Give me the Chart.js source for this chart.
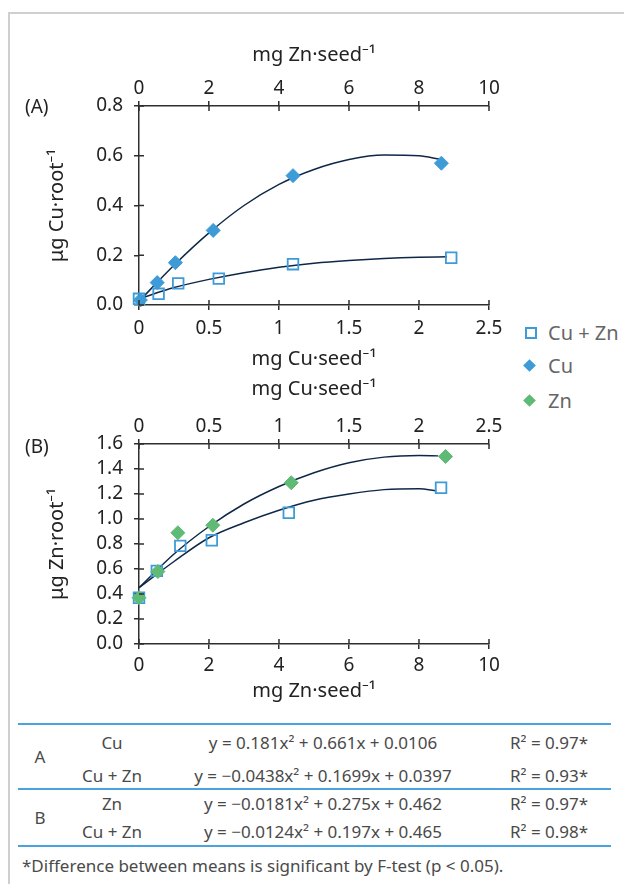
<!DOCTYPE html>
<html><head><meta charset="utf-8">
<script src="https://cdn.jsdelivr.net/npm/chart.js@4.4.1/dist/chart.umd.min.js"></script>
<style>
html,body{margin:0;padding:0;background:#fff;}
body{width:624px;height:884px;position:relative;overflow:hidden;font-family:"Noto Sans",sans-serif;}
.frame{position:absolute;left:8px;top:12px;width:700px;height:900px;border-left:2px solid #cfcfcf;border-top:2px solid #cfcfcf;}
canvas{position:absolute;left:0;}
.lbl{position:absolute;font-size:19px;line-height:20px;color:#222;}
.leg{position:absolute;left:522px;font-size:20px;line-height:22px;color:#666;}
.leg span.m{position:absolute;left:0;top:0;}
.leg span.t{position:absolute;left:26px;top:0;white-space:nowrap;}
.sq{width:8px;height:8px;border:2px solid #3d9bd8;}
.dm{width:9px;height:9px;transform:rotate(45deg);}
.hl{position:absolute;left:18px;width:593px;height:2px;background:#4aa3df;}
.tc{position:absolute;font-size:17px;line-height:20px;color:#4a4a4a;white-space:nowrap;}
</style>
</head><body>
<div class="frame"></div>
<canvas id="cA" width="520" height="380" style="top:0px"></canvas>
<canvas id="cB" width="520" height="340" style="top:370px"></canvas>
<div class="lbl" style="left:25px;top:96px">(A)</div>
<div class="lbl" style="left:25px;top:436px">(B)</div>
<div id="legend"></div>
<div id="table"></div>
<script>
// Panel A (x = mg Cu·seed⁻¹, y = µg Cu·root⁻¹)
const aCuX   = [0.01, 0.13, 0.26, 0.53, 1.10, 2.16];
const aCuY   = [0.02, 0.09, 0.17, 0.30, 0.52, 0.57];
const aCuZnX = [0.00, 0.14, 0.28, 0.57, 1.10, 2.23];
const aCuZnY = [0.025, 0.045, 0.087, 0.106, 0.164, 0.19];
const aCuFitX   = [0, 0.25, 0.5, 0.75, 1.0, 1.25, 1.5, 1.75, 2.0, 2.15];
const aCuFitY   = [0.015, 0.16, 0.29, 0.40, 0.485, 0.545, 0.585, 0.603, 0.60, 0.586];
const aCuZnFitX = [0, 0.25, 0.5, 0.75, 1.0, 1.25, 1.5, 1.75, 2.0, 2.2];
const aCuZnFitY = [0.025, 0.07, 0.103, 0.13, 0.152, 0.168, 0.179, 0.187, 0.192, 0.194];

// Panel B (x = mg Zn·seed⁻¹, y = µg Zn·root⁻¹)
const bZnX   = [0, 0.54, 1.11, 2.11, 4.35, 8.76];
const bZnY   = [0.37, 0.58, 0.89, 0.95, 1.29, 1.50];
const bCuZnX = [0, 0.51, 1.18, 2.08, 4.28, 8.63];
const bCuZnY = [0.37, 0.585, 0.785, 0.83, 1.05, 1.25];
const bZnFitX   = [0, 1, 2, 3, 4, 5, 6, 7, 8, 8.55];
const bZnFitY   = [0.45, 0.72, 0.94, 1.12, 1.26, 1.37, 1.45, 1.495, 1.508, 1.505];
const bCuZnFitX = [0, 1, 2, 3, 4, 5, 6, 7, 8, 8.5];
const bCuZnFitY = [0.45, 0.66, 0.85, 0.97, 1.07, 1.15, 1.20, 1.235, 1.243, 1.225];

// Tick labels
const cuTicks = ['0', '0.5', '1', '1.5', '2', '2.5'];
const znTicks = ['0', '2', '4', '6', '8', '10'];
const yTicksA = ['0.0', '0.2', '0.4', '0.6', '0.8'];
const yTicksB = ['0.0', '0.2', '0.4', '0.6', '0.8', '1.0', '1.2', '1.4', '1.6'];

// Legend & table text
const legendItems = [['Cu + Zn', 'sq', '#3d9bd8'], ['Cu', 'dm', '#3d9bd8'], ['Zn', 'dm', '#5fba75']];
const tableGroups = ['A', 'B'];
const tableNames = ['Cu', 'Cu + Zn', 'Zn', 'Cu + Zn'];
const tableEqs = ['y = 0.181x² + 0.661x + 0.0106', 'y = −0.0438x² + 0.1699x + 0.0397',
                  'y = −0.0181x² + 0.275x + 0.462', 'y = −0.0124x² + 0.197x + 0.465'];
const tableR2 = ['R² = 0.97*', 'R² = 0.93*', 'R² = 0.97*', 'R² = 0.98*'];
const footnote = '*Difference between means is significant by F-test (p < 0.05).';

const BLUE = '#3d9bd8', GREEN = '#5fba75', NAVY = '#0f2747', AX = '#2e2e2e';
const pts = (xs, ys) => xs.map((x, i) => ({x: x, y: ys[i]}));

const inwardTicks = {
  id: 'inwardTicks',
  afterDraw(chart) {
    const ctx = chart.ctx, a = chart.chartArea;
    ctx.save(); ctx.strokeStyle = AX; ctx.lineWidth = 1.5;
    ['x', 'x2', 'y'].forEach(id => {
      const s = chart.scales[id];
      s.ticks.forEach((t, i) => {
        const p = s.getPixelForTick(i);
        ctx.beginPath();
        if (id === 'x') { ctx.moveTo(p, a.bottom); ctx.lineTo(p, a.bottom - 5); }
        else if (id === 'x2') { ctx.moveTo(p, a.top); ctx.lineTo(p, a.top + 5); }
        else { ctx.moveTo(a.left, p); ctx.lineTo(a.left + 5, p); }
        ctx.stroke();
      });
    });
    ctx.restore();
  }
};

function axis(pos, min, max, step, labels, title, tpad, size, tickPad) {
  return {
    type: 'linear', position: pos, min: min, max: max,
    ticks: {stepSize: step, autoSkip: false, maxRotation: 0, padding: tickPad,
            color: '#222', font: {family: 'Noto Sans', size: 19},
            callback: (v, i) => labels[i]},
    grid: {drawOnChartArea: false, drawTicks: true, tickLength: 5, color: AX, lineWidth: 1.5},
    border: {display: true, color: AX, width: 1.5},
    title: {display: true, text: title, color: '#222', font: {family: 'Noto Sans', size: 20}, padding: tpad},
    afterFit: s => { if (pos === 'left') s.width = size; else s.height = size; }
  };
}

function curve(xs, ys) {
  return {data: pts(xs, ys), showLine: true, pointRadius: 0, borderColor: NAVY, borderWidth: 1.5,
          cubicInterpolationMode: 'monotone', order: 3, clip: false};
}
function squares(xs, ys) {
  return {data: pts(xs, ys), pointStyle: 'rect', pointRadius: 7.5, borderColor: BLUE,
          backgroundColor: 'rgba(255,255,255,0)', borderWidth: 1.8, order: 2, clip: false};
}
function diamonds(xs, ys, c) {
  return {data: pts(xs, ys), pointStyle: 'rectRot', pointRadius: 7, borderColor: c,
          backgroundColor: c, borderWidth: 1, order: 1, clip: false};
}

const common = {responsive: false, animation: false, devicePixelRatio: 1,
  plugins: {legend: {display: false}, tooltip: {enabled: false}}};

new Chart(document.getElementById('cA'), {
  type: 'scatter',
  data: {datasets: [curve(aCuFitX, aCuFitY), curve(aCuZnFitX, aCuZnFitY),
                    squares(aCuZnX, aCuZnY), diamonds(aCuX, aCuY, BLUE)]},
  options: Object.assign({}, common, {
    layout: {padding: {left: 0, top: 30, right: 31, bottom: 0}},
    scales: {
      x: axis('bottom', 0, 2.5, 0.5, cuTicks, 'mg Cu·seed⁻¹', {top: 0, bottom: 9}, 75, 7),
      x2: axis('top', 0, 10, 2, znTicks, 'mg Zn·seed⁻¹', {top: 13, bottom: 0}, 76, 1),
      y: axis('left', 0, 0.8, 0.2, yTicksA, 'μg Cu·root⁻¹', {top: 45, bottom: 0}, 139, 11)
    }
  }),
  plugins: [inwardTicks]
});

new Chart(document.getElementById('cB'), {
  type: 'scatter',
  data: {datasets: [curve(bZnFitX, bZnFitY), curve(bCuZnFitX, bCuZnFitY),
                    squares(bCuZnX, bCuZnY), diamonds(bZnX, bZnY, GREEN)]},
  options: Object.assign({}, common, {
    layout: {padding: {left: 0, top: 0, right: 31, bottom: 0}},
    scales: {
      x: axis('bottom', 0, 10, 2, znTicks, 'mg Zn·seed⁻¹', {top: 0, bottom: 7}, 66, 5),
      x2: axis('top', 0, 2.5, 0.5, cuTicks, 'mg Cu·seed⁻¹', {top: 7, bottom: 0}, 74, 1),
      y: axis('left', 0, 1.6, 0.2, yTicksB, 'μg Zn·root⁻¹', {top: 45, bottom: 0}, 139, 11)
    }
  }),
  plugins: [inwardTicks]
});

// Legend
const legTops = [322, 355, 390];
const leg = document.getElementById('legend');
legendItems.forEach((it, i) => {
  const d = document.createElement('div');
  d.className = 'leg'; d.style.top = legTops[i] + 'px';
  const m = document.createElement('span');
  m.className = 'm ' + it[1];
  if (it[1] === 'sq') { m.style.left = '3px'; m.style.top = '5px'; m.style.borderColor = it[2]; }
  else { m.style.left = '3px'; m.style.top = '6px'; m.style.background = it[2]; }
  const t = document.createElement('span');
  t.className = 't'; t.textContent = it[0];
  d.appendChild(m); d.appendChild(t); leg.appendChild(d);
});

// Table
const tb = document.getElementById('table');
[723, 788, 845].forEach(y => { const l = document.createElement('div'); l.className = 'hl'; l.style.top = y + 'px'; tb.appendChild(l); });
function cell(text, x, cy, align) {
  const d = document.createElement('div');
  d.className = 'tc'; d.textContent = text; d.style.top = (cy - 11) + 'px';
  if (align === 'c') { d.style.left = (x - 200) + 'px'; d.style.width = '400px'; d.style.textAlign = 'center'; }
  else { d.style.left = x + 'px'; }
  tb.appendChild(d);
}
const rowY = [744, 777, 805, 833], grpY = [758, 819];
tableGroups.forEach((g, i) => cell(g, 40, grpY[i], 'c'));
tableNames.forEach((n, i) => cell(n, 112, rowY[i], 'c'));
tableEqs.forEach((e, i) => cell(e, 323, rowY[i], 'c'));
tableR2.forEach((r, i) => cell(r, 510, rowY[i], 'l'));
cell(footnote, 22, 867, 'l');
</script>
</body></html>
